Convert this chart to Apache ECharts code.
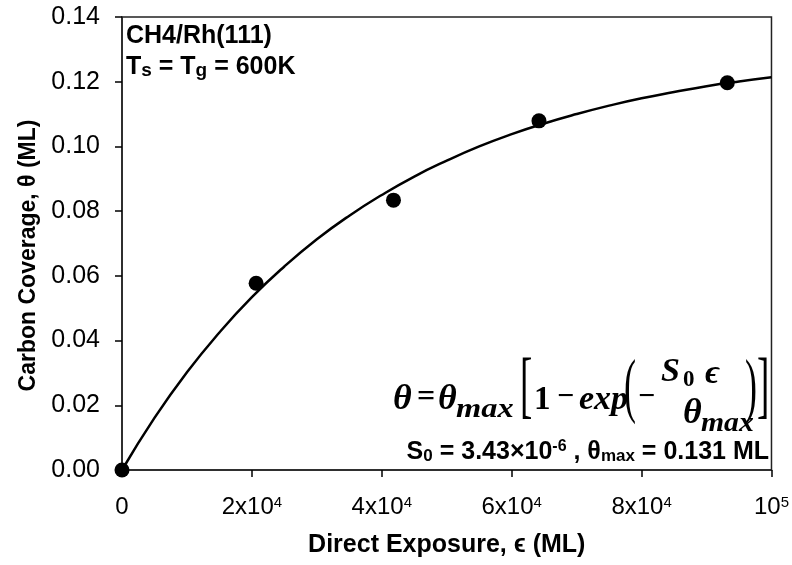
<!DOCTYPE html>
<html><head><meta charset="utf-8">
<script src="https://cdn.jsdelivr.net/npm/echarts@6/dist/echarts.min.js"></script>
<style>html,body{margin:0;padding:0;background:#fff}#c{width:792px;height:565px}</style>
</head><body><div id="c"></div>
<script>
// measured data points
const exposure = [0, 20650, 41800, 64200, 93200];
const coverage = [0, 0.0577, 0.0834, 0.1079, 0.1197];
// fitted curve
const fitExposure = [0, 5000, 10000, 15000, 20000, 25000, 30000, 35000, 40000, 45000, 50000,
  55000, 60000, 65000, 70000, 75000, 80000, 85000, 90000, 95000, 100000];
const fitCoverage = [0, 0.0161, 0.0302, 0.0425, 0.0534, 0.0629, 0.0713, 0.0786, 0.0850, 0.0907, 0.0956,
  0.1000, 0.1038, 0.1071, 0.1100, 0.1126, 0.1149, 0.1168, 0.1186, 0.1201, 0.1214];
// tick labels
const xTickValues = [0, 20000, 40000, 60000, 80000, 100000];
const xTickLabels = ['{b|0}', '{b|2x10}{p|4}', '{b|4x10}{p|4}', '{b|6x10}{p|4}', '{b|8x10}{p|4}', '{b|10}{p|5}'];
const yTickValues = [0, 0.02, 0.04, 0.06, 0.08, 0.10, 0.12, 0.14];
const yTickLabels = ['0.00', '0.02', '0.04', '0.06', '0.08', '0.10', '0.12', '0.14'];

const SF = '"Liberation Sans", Arial, sans-serif';
const MF = '"Liberation Serif", "Times New Roman", serif';

const fitData = fitExposure.map((x, i) => [x, fitCoverage[i]]);
const ptData = exposure.map((x, i) => [x, coverage[i]]);

function mt(text, x, y, size, opts) {
  opts = opts || {};
  return {
    type: 'text', x: x, y: y, z: 100,
    scaleX: opts.sx || 1, scaleY: opts.sy || 1,
    style: {
      text: text, fill: '#000', fontFamily: MF,
      fontSize: size, fontWeight: opts.w || 'bold', fontStyle: opts.st || 'italic',
      align: 'left', verticalAlign: 'middle'
    }
  };
}

const chart = echarts.init(document.getElementById('c'), null, {renderer: 'canvas'});
chart.setOption({
  animation: false,
  backgroundColor: '#fff',
  grid: {left: 122, right: 20, top: 17, bottom: 95, show: true, borderColor: '#222', borderWidth: 1.5, backgroundColor: 'transparent'},
  xAxis: {
    type: 'value', min: 0, max: 100000, interval: 20000,
    name: 'Direct Exposure, \u03f5 (ML)', nameLocation: 'middle', nameGap: 63,
    nameTextStyle: {fontFamily: SF, fontSize: 25, fontWeight: 'bold', color: '#000'},
    axisLine: {show: true, lineStyle: {color: '#222', width: 1.5}},
    axisTick: {show: true, inside: false, length: 7, lineStyle: {color: '#000', width: 1.5}},
    splitLine: {show: false},
    axisLabel: {
      margin: 25, color: '#000',
      formatter: function (v) { const i = xTickValues.indexOf(v); return i >= 0 ? xTickLabels[i] : ''; },
      rich: {
        b: {fontFamily: SF, fontSize: 24, lineHeight: 24, color: '#000', verticalAlign: 'middle'},
        p: {fontFamily: SF, fontSize: 15, lineHeight: 9, color: '#000', verticalAlign: 'top'}
      }
    }
  },
  yAxis: {
    type: 'value', min: 0, max: 0.14, interval: 0.02,
    name: 'Carbon Coverage, \u03b8 (ML)', nameLocation: 'middle', nameGap: 82,
    nameTextStyle: {fontFamily: SF, fontSize: 23, fontWeight: 'bold', color: '#000', padding: [0, 24, 0, 0]},
    axisLine: {show: true, lineStyle: {color: '#222', width: 1.5}},
    axisTick: {show: true, inside: false, length: 7, lineStyle: {color: '#000', width: 1.5}},
    splitLine: {show: false},
    axisLabel: {
      margin: 22, color: '#000', fontFamily: SF, fontSize: 25,
      formatter: function (v) {
        let best = 0;
        yTickValues.forEach((t, i) => { if (Math.abs(t - v) < Math.abs(yTickValues[best] - v)) best = i; });
        return yTickLabels[best];
      }
    }
  },
  series: [
    {
      type: 'line', data: fitData, smooth: true, showSymbol: false, symbol: 'none',
      lineStyle: {color: '#000', width: 2.5}, z: 2, silent: true
    },
    {
      type: 'scatter', data: ptData, symbol: 'circle', symbolSize: 15, clip: false,
      itemStyle: {color: '#000', opacity: 1}, z: 3, silent: true
    }
  ],
  graphic: [
    {
      type: 'text', x: 126, y: 36, z: 100,
      style: {
        text: '{b|CH}{d|4}{b|/Rh(111)}', align: 'left', verticalAlign: 'middle',
        rich: {
          b: {fontFamily: SF, fontSize: 25, fontWeight: 'bold', fill: '#000', lineHeight: 26, verticalAlign: 'middle'},
          d: {fontFamily: SF, fontSize: 25, fontWeight: 'bold', fill: '#000', lineHeight: 18, verticalAlign: 'bottom'}
        }
      }
    },
    {
      type: 'text', x: 126, y: 67, z: 100,
      style: {
        text: '{b|T}{s|s}{b| = T}{s|g}{b| = 600K}', align: 'left', verticalAlign: 'middle',
        rich: {
          b: {fontFamily: SF, fontSize: 25, fontWeight: 'bold', fill: '#000', lineHeight: 26, verticalAlign: 'middle'},
          s: {fontFamily: SF, fontSize: 19, fontWeight: 'bold', fill: '#000', lineHeight: 2, verticalAlign: 'bottom'}
        }
      }
    },
    {
      type: 'text', x: 769, y: 452, z: 100,
      style: {
        text: '{b|S}{s|0}{b| = 3.43\u00d710}{p|-6}{b| , \u03b8}{s|max}{b| = 0.131 ML}', align: 'right', verticalAlign: 'middle',
        rich: {
          b: {fontFamily: SF, fontSize: 25, fontWeight: 'bold', fill: '#000', lineHeight: 26, verticalAlign: 'middle'},
          s: {fontFamily: SF, fontSize: 17, fontWeight: 'bold', fill: '#000', lineHeight: 4, verticalAlign: 'bottom'},
          p: {fontFamily: SF, fontSize: 16, fontWeight: 'bold', fill: '#000', lineHeight: 8, verticalAlign: 'top'}
        }
      }
    },
    // equation pieces
    mt('\u03b8', 393, 400, 36),
    mt('=', 417, 398, 32, {st: 'normal'}),
    mt('\u03b8', 438, 400, 36),
    mt('max', 456, 410, 27, {sx: 1.2}),
    mt('[', 520, 390, 74, {w: 'normal', st: 'normal', sx: 0.5}),
    mt('1', 534, 400, 33, {st: 'normal'}),
    mt('\u2212', 557, 397, 30, {st: 'normal'}),
    mt('exp', 579, 400, 34),
    mt('(', 624, 390, 72, {w: 'normal', st: 'normal', sx: 0.5}),
    mt('\u2212', 638, 397, 30, {st: 'normal'}),
    mt('S', 661, 372, 34),
    mt('0', 683, 380, 23, {st: 'normal'}),
    mt('\u03f5', 705, 374, 34),
    mt('\u03b8', 683, 414, 36),
    mt('max', 701, 424, 27, {sx: 1.1}),
    mt(')', 745, 390, 72, {w: 'normal', st: 'normal', sx: 0.5}),
    mt(']', 757, 390, 74, {w: 'normal', st: 'normal', sx: 0.5})
  ]
});
</script>
</body></html>
